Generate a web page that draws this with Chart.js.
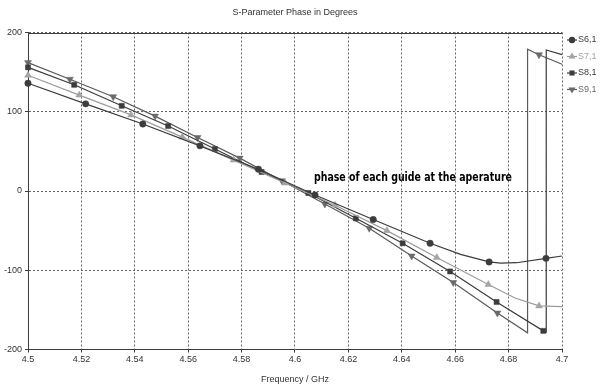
<!DOCTYPE html>
<html>
<head>
<meta charset="utf-8">
<script src="https://cdn.jsdelivr.net/npm/chart.js@4.4.1/dist/chart.umd.min.js"></script>
<style>
html,body{margin:0;padding:0;background:#fff;}
</style>
</head>
<body>
<canvas id="c" width="600" height="389"></canvas>
<script>
// data (frequency in GHz, phase in degrees)
var s6x = [4.5, 4.5216, 4.5430, 4.5644, 4.5863, 4.6075, 4.6293, 4.6506, 4.6620, 4.6727, 4.6770, 4.6830, 4.6940, 4.7];
var s6y = [136, 110, 84.5, 57, 27.5, -5, -36, -66, -80, -89.5, -91, -90.5, -85, -82];
var s7x = [4.5, 4.5192, 4.5386, 4.5578, 4.5770, 4.5963, 4.6150, 4.6344, 4.6531, 4.6724, 4.6824, 4.6914, 4.7];
var s7y = [146, 121, 96, 68, 39, 10, -18, -50, -84, -118, -135, -145, -146];
var s8x = [4.5, 4.5173, 4.5351, 4.5525, 4.5700, 4.5875, 4.6050, 4.6228, 4.6403, 4.6581, 4.6755, 4.6930, 4.6941, 4.6941, 4.7];
var s8y = [156, 134, 107.5, 82, 53, 24, -2.5, -34.5, -66, -101.5, -140, -176.5, -178, 178, 172];
var s9x = [4.5, 4.5157, 4.5319, 4.5476, 4.5635, 4.5793, 4.5951, 4.6112, 4.6278, 4.6437, 4.6593, 4.6758, 4.6871, 4.6871, 4.6914, 4.7];
var s9y = [162, 141, 119, 94.5, 67.5, 41.5, 13, -16.5, -47, -82, -115.5, -154, -179, 179, 172, 160];
// points that are only line vertices, no marker
var s6plain = [8, 10, 11, 13];
var s7plain = [10, 12];
var s8plain = [12, 13, 14];
var s9plain = [12, 13, 15];

var names = ["S6,1", "S7,1", "S8,1", "S9,1"];
var xTicks = [4.5, 4.52, 4.54, 4.56, 4.58, 4.6, 4.62, 4.64, 4.66, 4.68, 4.7];
var yTicks = [-200, -100, 0, 100, 200];
var chartTitle = "S-Parameter Phase in Degrees";
var xTitle = "Frequency / GHz";
var note = "phase of each guide at the aperature";

function pts(xs, ys){
  var out = [];
  for (var i = 0; i < xs.length; i++) out.push({x: xs[i], y: ys[i]});
  return out;
}

var colors = ["#3c3c3c", "#a4a4a4", "#3c3c3c", "#6a6a6a"];
var lineColors = ["#3c3c3c", "#9c9c9c", "#3c3c3c", "#5a5a5a"];
var shapes = ["circle", "triangle", "rect", "triangle"];
var rots = [0, 0, 0, 180];
var sizes = [3.2, 4, 3.6, 4];

var series = [[s6x, s6y, s6plain], [s7x, s7y, s7plain], [s8x, s8y, s8plain], [s9x, s9y, s9plain]];
var datasets = [];
for (var k = 0; k < series.length; k++) {
  (function(k){
    var plain = series[k][2];
    datasets.push({
      label: names[k],
      data: pts(series[k][0], series[k][1]),
      borderColor: lineColors[k],
      backgroundColor: colors[k],
      pointBackgroundColor: colors[k],
      pointBorderColor: colors[k],
      borderWidth: 1.2,
      pointStyle: shapes[k],
      pointRotation: rots[k],
      pointRadius: function(c){ return plain.indexOf(c.dataIndex) >= 0 ? 0 : sizes[k]; },
      pointBorderWidth: 0.5,
      tension: 0,
      clip: false
    });
  })(k);
}

var fontSmall = {family: "'Liberation Sans', Arial, sans-serif", size: 9};

var extras = {
  id: "extras",
  afterDraw: function(chart){
    var ctx = chart.ctx, a = chart.chartArea;
    var xs = chart.scales.x, ys = chart.scales.y;
    ctx.save();
    // top frame line
    ctx.strokeStyle = "#3c3c3c";
    ctx.lineWidth = 1;
    ctx.beginPath();
    ctx.moveTo(a.left, Math.round(a.top) + 0.5);
    ctx.lineTo(a.right, Math.round(a.top) + 0.5);
    ctx.stroke();
    // title
    ctx.fillStyle = "#333";
    ctx.font = "9px 'Liberation Sans', Arial, sans-serif";
    ctx.textAlign = "center";
    ctx.textBaseline = "middle";
    ctx.fillText(chartTitle, (a.left + a.right) / 2, 13);
    // note, squeezed to the width it has in the picture
    ctx.font = "bold 12px 'DejaVu Sans Condensed', 'DejaVu Sans', sans-serif";
    ctx.textAlign = "left";
    ctx.textBaseline = "alphabetic";
    ctx.fillStyle = "#000";
    var nx = xs.getPixelForValue(4.6071), ny = ys.getPixelForValue(12.5);
    var sx = 198 / ctx.measureText(note).width;
    ctx.save();
    ctx.translate(nx, ny);
    ctx.scale(sx, 1);
    ctx.fillText(note, 0, 0);
    ctx.restore();
    // legend
    ctx.font = "9px 'Liberation Sans', Arial, sans-serif";
    ctx.textBaseline = "middle";
    for (var i = 0; i < names.length; i++) {
      var y = 40 + i * 16.5;
      ctx.strokeStyle = lineColors[i];
      ctx.lineWidth = 1.2;
      ctx.beginPath();
      ctx.moveTo(567, y);
      ctx.lineTo(577, y);
      ctx.stroke();
      ctx.fillStyle = colors[i];
      Chart.helpers.drawPoint(ctx, {pointStyle: shapes[i], rotation: rots[i], radius: sizes[i], borderWidth: 0}, 572, y);
      ctx.fillStyle = colors[i];
      ctx.fillText(names[i], 578, y);
    }
    ctx.restore();
  }
};

new Chart(document.getElementById("c"), {
  type: "line",
  data: {datasets: datasets},
  plugins: [extras],
  options: {
    responsive: false,
    animation: false,
    layout: {padding: {top: 32.5, right: 38, left: 0, bottom: 0}},
    plugins: {legend: {display: false}, title: {display: false}, tooltip: {enabled: false}},
    scales: {
      x: {
        type: "linear",
        min: 4.5, max: 4.7,
        afterBuildTicks: function(s){ s.ticks = xTicks.map(function(v){ return {value: v}; }); },
        afterFit: function(s){ s.height = 39.5; },
        ticks: {
          color: "#333", font: fontSmall, padding: 2, maxRotation: 0, autoSkip: false,
          callback: function(v){ return String(Number(v.toFixed(2))); }
        },
        grid: {color: "#666", lineWidth: 1, tickLength: 3, tickColor: "#3c3c3c", tickBorderDash: []},
        border: {display: true, color: "#3c3c3c", width: 1, dash: [2, 2]},
        title: {display: true, text: xTitle, color: "#333", font: fontSmall, padding: {top: 4, bottom: 4}}
      },
      y: {
        min: -200, max: 200,
        afterBuildTicks: function(s){ s.ticks = yTicks.map(function(v){ return {value: v}; }); },
        afterFit: function(s){ s.width = 28; },
        ticks: {color: "#333", font: fontSmall, padding: 3},
        grid: {color: "#666", lineWidth: 1, tickLength: 3, tickColor: "#3c3c3c", tickBorderDash: []},
        border: {display: true, color: "#3c3c3c", width: 1, dash: [2, 2]}
      }
    }
  }
});
</script>
</body>
</html>
